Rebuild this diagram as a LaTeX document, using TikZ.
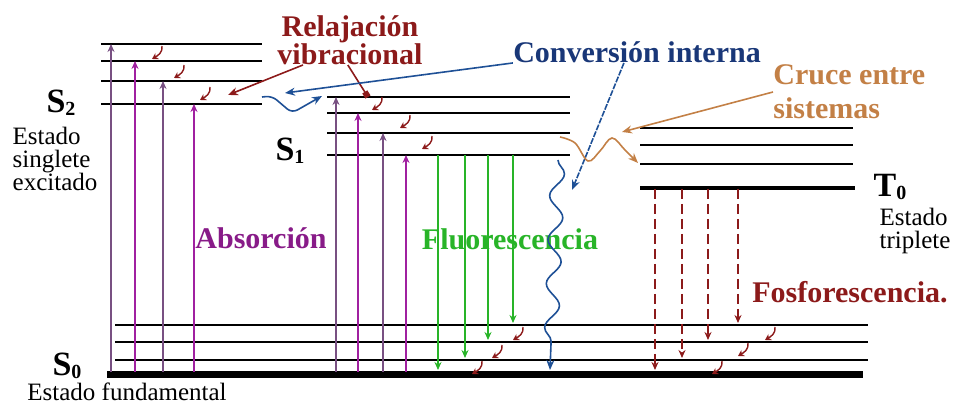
\documentclass[tikz,border=0pt]{standalone}
\usepackage{fontspec}
\setmainfont{Liberation Serif}
\usetikzlibrary{arrows.meta, decorations.pathmorphing}
\definecolor{abspurple}{RGB}{160,32,160}
\definecolor{absgrey}{RGB}{120,80,130}
\definecolor{vibred}{RGB}{140,26,26}
\definecolor{icblue}{RGB}{30,80,150}
\definecolor{cinavy}{RGB}{25,55,120}
\definecolor{fluogreen}{RGB}{40,180,40}
\definecolor{iscorange}{RGB}{195,128,70}
\newcommand{\lbl}{\fontsize{15}{14}\selectfont\bfseries}
\newcommand{\statefont}{\fontsize{17}{17}\selectfont\bfseries}
\newcommand{\descfont}{\fontsize{12.5}{11.5}\selectfont}
\newcommand{\stsub}[1]{\raisebox{-1.5pt}{\fontsize{10}{10}\selectfont #1}}
\newcommand{\vibdrop}[2]{\draw[vibarr] (#1,-#2) to[out=-80,in=30] ++(-10,-13);}

\begin{document}
\begin{tikzpicture}[x=0.5pt,y=0.5pt,
    level/.style={line width=1.1pt},
    absarr/.style={-{Stealth[length=4pt,width=3.5pt]}, line width=0.9pt},
    fluoarr/.style={-{Stealth[length=4pt,width=3.5pt]}, line width=0.9pt, fluogreen},
    phosarr/.style={-{Stealth[length=4pt,width=3.5pt]}, line width=0.9pt, vibred, dash pattern=on 5pt off 2.5pt},
    vibarr/.style={-{Stealth[length=3pt,width=3.5pt]}, line width=0.7pt, vibred},
    icarr/.style={-{Stealth[length=5pt,width=4pt]}, line width=0.8pt, icblue},
    iscarr/.style={-{Stealth[length=5pt,width=4pt]}, line width=0.8pt, iscorange},
    lblnode/.style={inner sep=0pt, font=\lbl},
    statenode/.style={inner sep=0pt, font=\statefont},
    descnode/.style={inner sep=0pt, font=\descfont, align=left}]
    \useasboundingbox (0,0) rectangle (959,-406);
    % levels
    \foreach \y in {44,61,81,104} \draw[level] (101,-\y) -- (262,-\y);
    \foreach \y in {97,113,133,155} \draw[level] (327,-\y) -- (570,-\y);
    \foreach \y in {128,145,164} \draw[level] (640,-\y) -- (853,-\y);
    \draw[level, line width=1.6pt] (640,-188) -- (855,-188);
    \foreach \y in {325,342,360} \draw[level] (115,-\y) -- (868,-\y);
    \draw[line width=3.5pt] (107,-375) -- (863,-375);
    % state names
    \node[statenode] (S2) at (61,-103) {S\stsub{2}};
    \node[descnode] (S2txt) at (55,-159) {Estado\\singlete\\excitado};
    \node[statenode] (S1) at (290,-151) {S\stsub{1}};
    \node[statenode] (T0) at (890,-187) {T\stsub{0}};
    \node[descnode] (T0txt) at (915,-231) {Estado\\triplete};
    \node[statenode] (S0) at (67,-366) {S\stsub{0}};
    \node[inner sep=0pt, font=\descfont] (S0txt) at (127,-392) {Estado fundamental};
    % process names
    \node[lblnode, vibred, align=center] (relax) at (350,-40) {Relajación\\vibracional};
    \node[lblnode, cinavy] (ci) at (637,-52) {Conversión interna};
    \node[lblnode, iscorange, align=left, anchor=west] (isc) at (773,-92) {Cruce entre\\[3pt]sistemas};
    \node[lblnode, abspurple!85!black] (abs) at (261,-238) {Absorción};
    \node[lblnode, fluogreen] (fluo) at (510,-239) {Fluorescencia};
    \node[lblnode, vibred] (phos) at (850,-292) {Fosforescencia.};
    % absorption
    \foreach \x/\y/\c in {111/44/absgrey, 135/61/abspurple, 163/81/absgrey, 194/104/abspurple,
        336/97/absgrey, 358/113/abspurple, 383/133/absgrey, 406/155/abspurple}
      \draw[absarr, \c] (\x,-372) -- (\x,-\y);
    % fluorescence and phosphorescence
    \foreach \x/\y in {438/370, 465/358, 488/340, 513/323} \draw[fluoarr] (\x,-155) -- (\x,-\y);
    \foreach \x/\y in {655/370, 682/358, 708/340, 738/323} \draw[phosarr] (\x,-189) -- (\x,-\y);
    % vibrational relaxation
    \foreach \x/\y in {162/46, 184/65, 210/87, 382/97, 410/115, 432/136,
        523/327, 502/345, 482/361, 775/327, 748/343, 722/361} \vibdrop{\x}{\y};
    % pointers from the names
    \coordinate (rvS2) at (228,-95);
    \coordinate (rvS1) at (368,-97);
    \coordinate (ciS2) at (285,-93);
    \coordinate (ciS1) at (572,-190);
    \coordinate (iscT) at (622,-132);
    \draw[vibred, line width=0.8pt, -{Stealth[length=5pt,width=4pt]}] (relax.208) -- (rvS2);
    \draw[vibred, line width=0.8pt, -{Square[length=3pt,width=3pt]}] (relax.265) -- (rvS1);
    \draw[icarr] (ci.south west) -- (ciS2);
    \draw[icarr, dash pattern=on 3pt off 0.7pt] (ci.220) -- (ciS1);
    \draw[iscarr] (isc.west) -- (iscT);
    % internal conversion and intersystem crossing
    \draw[icarr, rounded corners=3pt] (262,-97) -- (272,-96) -- (292,-113) -- (322,-96);
    \draw[icarr, decorate, decoration={snake, amplitude=3.5pt, segment length=22pt, post length=5pt}]
      (558,-160) -- (550,-370);
    \draw[iscarr] plot[smooth, tension=0.6] coordinates {(560,-137) (575,-143) (588,-161)
      (600,-151) (612,-138) (625,-150) (638,-163)};
\end{tikzpicture}
\end{document}
